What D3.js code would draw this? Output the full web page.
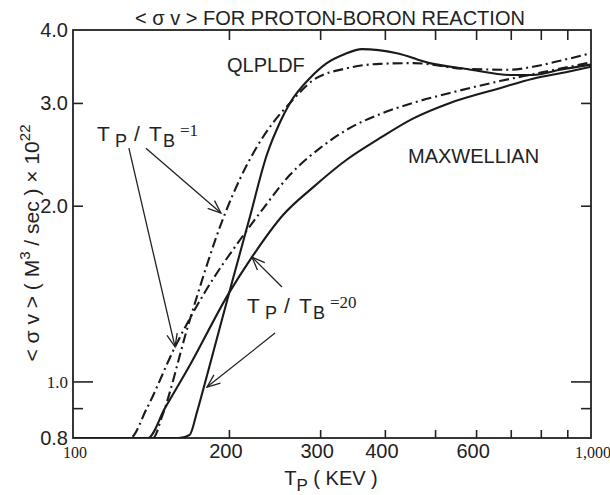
<!DOCTYPE html>
<html><head><meta charset="utf-8">
<script src="https://cdn.jsdelivr.net/npm/d3@7"></script>
<style>body{margin:0;background:#fff}svg{display:block}</style>
</head><body>
<script>
// ---- data ----
const xLabelValues = [100, 200, 300, 400, 600, 1000];
const xLabelText   = ["100", "200", "300", "400", "600", "1,000"];
const xLabelSerif  = [true, false, false, false, false, true];
const xTickValues  = [200, 300, 400, 500, 600, 700, 800, 900];
const yLabelValues = [0.8, 1.0, 2.0, 3.0, 4.0];
const yLabelText   = ["0.8", "1.0", "2.0", "3.0", "4.0"];
const yLabelSerif  = [false, true, false, false, false];
const yTickValues  = [0.9, 1.0, 2.0, 3.0];
const yLongTicks   = [1.0];

// [T_P keV, <sigma v>]
const qlpldfSolid = [[100,0.8],[160,0.8],[168,0.81],[173.5,0.886],[179.8,0.994],[188.8,1.168],[202.4,1.47],[218.7,1.89],[236.9,2.45],[251,2.78],[262.4,3.0],[286.8,3.31],[309,3.51],[335,3.64],[361,3.71],[422,3.65],[488,3.51],[576,3.43],[699,3.35],[772,3.35],[872,3.42],[1000,3.49]];
const qlpldfDash  = [[100,0.8],[142.7,0.8],[148.5,0.87],[167.4,1.26],[196.6,1.94],[224.5,2.49],[242.2,2.76],[262.4,3.0],[290.6,3.28],[338,3.44],[391,3.50],[453,3.51],[576,3.43],[698,3.42],[772,3.46],[880,3.55],[1000,3.65]];
const maxwSolid   = [[100,0.8],[139.5,0.8],[150.5,0.9],[168.2,1.067],[200.1,1.418],[221.5,1.633],[254.4,1.928],[290.6,2.15],[338,2.40],[391,2.61],[453,2.82],[534.3,3.0],[667,3.18],[772.7,3.30],[898.7,3.39],[1000,3.46]];
const maxwDash    = [[100,0.8],[128.8,0.8],[138.9,0.9],[157.4,1.146],[179.8,1.423],[210,1.747],[231.7,1.966],[262.4,2.26],[299.8,2.51],[338,2.70],[391,2.87],[453,3.0],[534.3,3.12],[667,3.27],[772.7,3.36],[1000,3.52]];

// arrows: [fromT, fromSigma, toT, toSigma]
const arrows = [
  [128.2, 2.51, 157.4, 1.146],
  [138.3, 2.51, 193.0, 1.943],
  [253.2, 1.451, 221.5, 1.633],
  [245.5, 1.21, 181.4, 0.978]
];

// ---- layout ----
const W = 610, H = 495;
const L = 73, R = 591, T = 30, B = 438;
const sans = "'Liberation Sans', Arial, Helvetica, sans-serif";
const serif = "'Liberation Serif', 'Times New Roman', serif";

const x = d3.scaleLog().domain([100, 1000]).range([L, R]);
const y = d3.scaleLog().domain([0.8, 4.0]).range([B, T]);

const svg = d3.select("body").append("svg").attr("width", W).attr("height", H);

svg.append("defs").append("clipPath").attr("id", "clip")
  .append("rect").attr("x", L).attr("y", T).attr("width", R - L).attr("height", B - T);

// ticks via d3 axes (inward)
const ax = svg.append("g").attr("stroke", "#222");
ax.append("g").attr("transform", `translate(0,${B})`)
  .call(d3.axisBottom(x).tickValues(xTickValues).tickSizeInner(-8).tickSizeOuter(0).tickFormat(""));
ax.append("g").attr("transform", `translate(0,${T})`)
  .call(d3.axisTop(x).tickValues(xTickValues).tickSizeInner(-10).tickSizeOuter(0).tickFormat(""));
ax.append("g").attr("transform", `translate(${L},0)`)
  .call(d3.axisLeft(y).tickValues(yTickValues.filter(v => !yLongTicks.includes(v))).tickSizeInner(-10).tickSizeOuter(0).tickFormat(""));
ax.append("g").attr("transform", `translate(${L},0)`)
  .call(d3.axisLeft(y).tickValues(yLongTicks).tickSizeInner(-20).tickSizeOuter(0).tickFormat(""));
ax.append("g").attr("transform", `translate(${R},0)`)
  .call(d3.axisRight(y).tickValues(yTickValues.filter(v => !yLongTicks.includes(v))).tickSizeInner(-10).tickSizeOuter(0).tickFormat(""));
ax.append("g").attr("transform", `translate(${R},0)`)
  .call(d3.axisRight(y).tickValues(yLongTicks).tickSizeInner(-20).tickSizeOuter(0).tickFormat(""));
ax.selectAll(".domain").remove();
ax.selectAll(".tick line").attr("stroke", "#222").attr("stroke-width", 1.6);

// frame
svg.append("rect").attr("x", L).attr("y", T).attr("width", R - L).attr("height", B - T)
  .attr("fill", "none").attr("stroke", "#222").attr("stroke-width", 1.8);

// tick labels
svg.append("g").selectAll("text").data(xLabelValues).join("text")
  .attr("x", (d, i) => x(d) - (xLabelSerif[i] ? -2 : 3))
  .attr("y", 458)
  .attr("text-anchor", "middle")
  .attr("font-family", (d, i) => xLabelSerif[i] ? serif : sans)
  .attr("font-size", (d, i) => xLabelSerif[i] ? 16 : 20)
  .attr("fill", "#222")
  .text((d, i) => xLabelText[i]);

svg.append("g").selectAll("text").data(yLabelValues).join("text")
  .attr("x", 68)
  .attr("y", d => y(d))
  .attr("dy", "0.36em")
  .attr("text-anchor", "end")
  .attr("font-family", (d, i) => yLabelSerif[i] ? serif : sans)
  .attr("font-size", (d, i) => yLabelSerif[i] ? 17 : 20)
  .attr("fill", "#222")
  .text((d, i) => yLabelText[i]);

// curves
const line = d3.line().x(d => x(d[0])).y(d => y(d[1])).curve(d3.curveMonotoneX);
const plot = svg.append("g").attr("clip-path", "url(#clip)");
const series = [
  {data: qlpldfSolid, dash: null},
  {data: qlpldfDash, dash: "10,4,2,4"},
  {data: maxwSolid, dash: null},
  {data: maxwDash, dash: "10,4,2,4"}
];
plot.selectAll("path").data(series).join("path")
  .attr("d", d => line(d.data))
  .attr("fill", "none")
  .attr("stroke", "#1a1a1a")
  .attr("stroke-width", 2.1)
  .attr("stroke-dasharray", d => d.dash);

// arrows
const ag = svg.append("g").attr("stroke", "#222").attr("stroke-width", 1.3).attr("fill", "none");
arrows.forEach(a => {
  const x1 = x(a[0]), y1 = y(a[1]), x2 = x(a[2]), y2 = y(a[3]);
  ag.append("line").attr("x1", x1).attr("y1", y1).attr("x2", x2).attr("y2", y2);
  const ang = Math.atan2(y2 - y1, x2 - x1), len = 14, spread = 0.38;
  const p = [ang + Math.PI - spread, ang + Math.PI + spread].map(t => [x2 + len * Math.cos(t), y2 + len * Math.sin(t)]);
  ag.append("path").attr("d", `M${p[0][0]},${p[0][1]}L${x2},${y2}L${p[1][0]},${p[1][1]}`);
});

// annotations
const txt = (xx, yy, s, size, fam) => svg.append("text").attr("x", xx).attr("y", yy)
  .attr("font-family", fam || sans).attr("font-size", size).attr("fill", "#222").text(s);

svg.append("text").attr("x", 330).attr("y", 25).attr("text-anchor", "middle")
  .attr("font-family", sans).attr("font-size", 20).attr("fill", "#222")
  .text("< σ v >  FOR PROTON-BORON REACTION");

txt(227, 72, "QLPLDF", 20);
txt(408, 163, "MAXWELLIAN", 20);

function ratioLabel(xx, yy, val) {
  const g = svg.append("g").attr("font-family", sans).attr("fill", "#222");
  g.append("text").attr("x", xx).attr("y", yy).attr("font-size", 21).text("T");
  g.append("text").attr("x", xx + 18).attr("y", yy + 6).attr("font-size", 18).text("P");
  g.append("text").attr("x", xx + 37).attr("y", yy).attr("font-size", 21).text("/");
  g.append("text").attr("x", xx + 52).attr("y", yy).attr("font-size", 21).text("T");
  g.append("text").attr("x", xx + 66).attr("y", yy + 6).attr("font-size", 18).text("B");
  g.append("text").attr("x", xx + 83).attr("y", yy - 5).attr("font-family", serif).attr("font-size", 17).text("=" + val);
}
ratioLabel(97, 141, "1");
ratioLabel(247, 313, "20");

// axis titles
const xt = svg.append("text").attr("x", 331).attr("y", 485).attr("text-anchor", "middle")
  .attr("font-family", sans).attr("font-size", 20).attr("fill", "#222");
xt.append("tspan").text("T");
xt.append("tspan").attr("dy", 6).attr("font-size", 17).text("P");
xt.append("tspan").attr("dy", -6).text(" ( KEV )");

const yt = svg.append("text").attr("transform", "translate(39,243) rotate(-90)")
  .attr("text-anchor", "middle").attr("font-family", sans).attr("font-size", 21).attr("fill", "#222");
yt.append("tspan").text("< σ v >  ( M");
yt.append("tspan").attr("dy", -9).attr("font-size", 15).text("3");
yt.append("tspan").attr("dy", 9).text(" / sec )  × 10");
yt.append("tspan").attr("dy", -9).attr("font-size", 15).text("22");
</script>
</body></html>
